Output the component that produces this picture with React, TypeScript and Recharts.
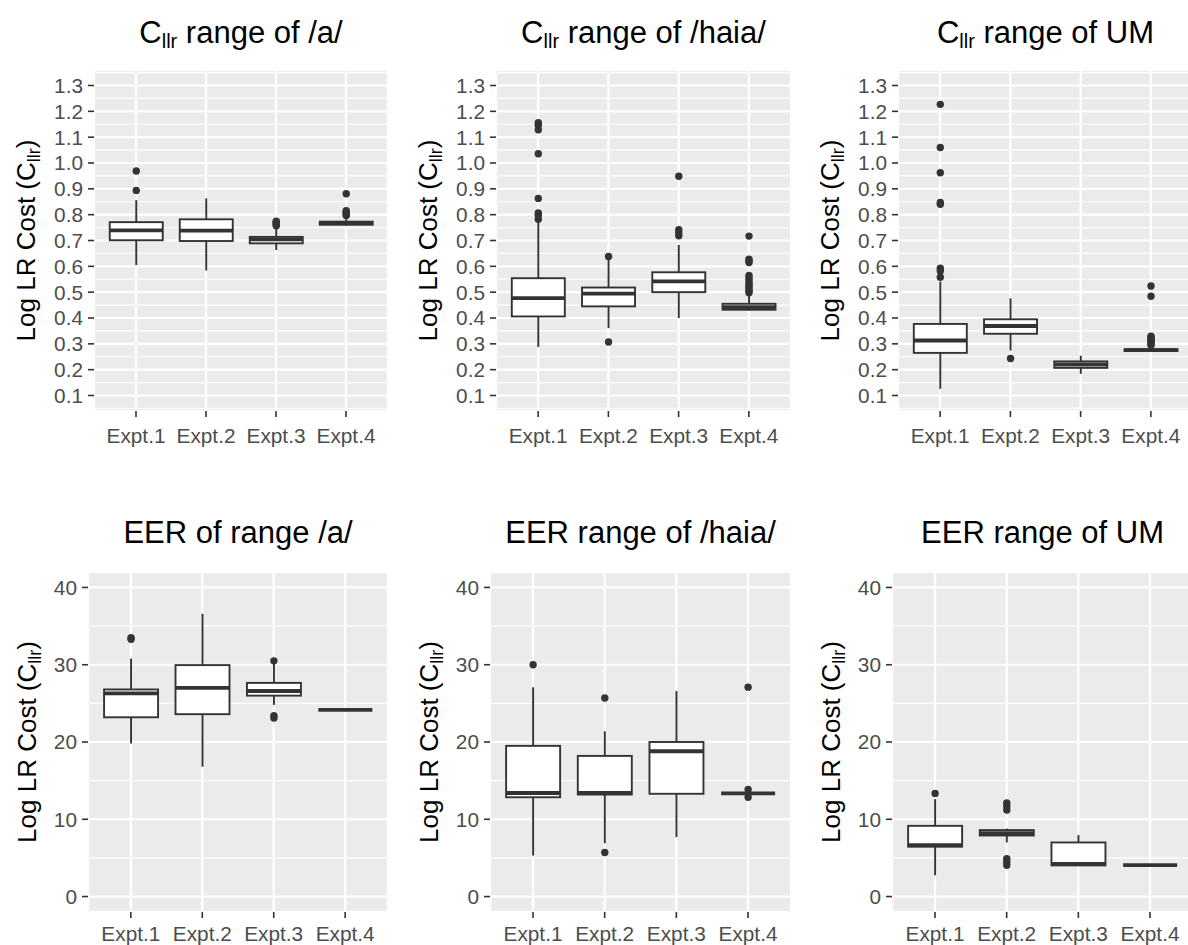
import { ReactNode } from "react";
import { ComposedChart, Bar, XAxis, YAxis, CartesianGrid } from "recharts";

const FONT = '"Liberation Sans", Arial, Helvetica, sans-serif';

const categories = ["Expt.1", "Expt.2", "Expt.3", "Expt.4"];

// [lower whisker, Q1, median, Q3, upper whisker] per experiment
const cllrA = [
  [0.605, 0.701, 0.739, 0.771, 0.856],
  [0.584, 0.698, 0.738, 0.782, 0.863],
  [0.663, 0.689, 0.704, 0.714, 0.745],
  [0.757, 0.761, 0.767, 0.773, 0.785],
];
const cllrAOut = [[0.969, 0.894], [], [0.757, 0.762, 0.766, 0.771, 0.775], [0.881, 0.797, 0.801, 0.806, 0.81, 0.815]];

const cllrHaia = [
  [0.288, 0.406, 0.477, 0.554, 0.77],
  [0.361, 0.445, 0.494, 0.518, 0.625],
  [0.4, 0.5, 0.542, 0.577, 0.683],
  [0.429, 0.432, 0.442, 0.455, 0.485],
];
const cllrHaiaOut = [
  [1.156, 1.146, 1.129, 1.036, 0.863, 0.807, 0.798, 0.782],
  [0.638, 0.307],
  [0.949, 0.742, 0.73, 0.718],
  [0.717, 0.628, 0.622, 0.615, 0.565, 0.555, 0.545, 0.535, 0.528, 0.52, 0.512, 0.505, 0.498],
];

const cllrUM = [
  [0.126, 0.265, 0.313, 0.377, 0.541],
  [0.274, 0.339, 0.369, 0.395, 0.476],
  [0.184, 0.207, 0.22, 0.232, 0.254],
  [0.27, 0.272, 0.276, 0.279, 0.285],
];
const cllrUMOut = [
  [1.227, 1.06, 0.962, 0.847, 0.84, 0.593, 0.582, 0.558],
  [0.243],
  [],
  [0.524, 0.484, 0.33, 0.325, 0.32, 0.315, 0.31, 0.305, 0.3, 0.295],
];

const eerA = [
  [19.8, 23.2, 26.3, 26.8, 30.8],
  [16.8, 23.6, 27.0, 29.95, 36.6],
  [24.8, 26.0, 26.6, 27.65, 30.1],
  [24.15, 24.15, 24.15, 24.15, 24.15],
];
const eerAOut = [[33.5, 33.3], [], [30.5, 23.4, 23.1], []];

const eerHaia = [
  [5.3, 12.85, 13.4, 19.5, 27.1],
  [6.9, 13.2, 13.4, 18.2, 21.4],
  [7.7, 13.3, 18.8, 20.0, 26.6],
  [13.35, 13.35, 13.35, 13.35, 13.35],
];
const eerHaiaOut = [[30.0], [25.7, 5.7], [], [27.1, 13.85, 12.85]];

const eerUM = [
  [2.75, 6.45, 6.65, 9.15, 12.6],
  [7.0, 7.9, 8.2, 8.6, 8.8],
  [4.03, 4.03, 4.22, 7.0, 7.95],
  [4.07, 4.07, 4.07, 4.07, 4.07],
];
const eerUMOut = [[13.35], [12.1, 11.7, 11.2, 4.9, 4.5, 4.05], [], []];

const cllrTicks = [0.1, 0.2, 0.3, 0.4, 0.5, 0.6, 0.7, 0.8, 0.9, 1.0, 1.1, 1.2, 1.3];
const cllrMinor = [0.05, 0.15, 0.25, 0.35, 0.45, 0.55, 0.65, 0.75, 0.85, 0.95, 1.05, 1.15, 1.25, 1.35];
const eerTicks = [0, 10, 20, 30, 40];
const eerMinor = [5, 15, 25, 35];

const INK = "#333333";

function buildRows(stats: number[][], outliers: number[][]) {
  return categories.map((name, i) => {
    const all = [...stats[i], ...outliers[i]];
    return {
      name,
      stats: stats[i],
      outliers: outliers[i],
      range: [Math.min(...all), Math.max(...all)],
    };
  });
}

// box, whiskers, median and outliers, positioned inside the bar's [min, max] range
function BoxShape(props: any) {
  const { x, y, width, height, payload } = props;
  if (x == null || y == null || !payload) return null;
  const [lo, hi] = payload.range;
  const top = Math.min(y, y + (height || 0));
  const span = Math.abs(height || 0);
  const py = (v: number) => (hi === lo ? top : top + ((hi - v) / (hi - lo)) * span);
  const [wLo, q1, med, q3, wHi] = payload.stats;
  const cx = x + width / 2;
  return (
    <g>
      <line x1={cx} x2={cx} y1={py(q3)} y2={py(wHi)} stroke={INK} strokeWidth={1.9} />
      <line x1={cx} x2={cx} y1={py(q1)} y2={py(wLo)} stroke={INK} strokeWidth={1.9} />
      <rect x={x} y={py(q3)} width={width} height={py(q1) - py(q3)} fill="#FFFFFF" stroke={INK} strokeWidth={1.9} />
      <line x1={x} x2={x + width} y1={py(med)} y2={py(med)} stroke={INK} strokeWidth={3.8} />
      {payload.outliers.map((v: number, i: number) => (
        <circle key={i} cx={cx} cy={py(v)} r={3.7} fill={INK} />
      ))}
    </g>
  );
}

function YTitle({ cx, cy }: { cx: number; cy: number }) {
  return (
    <text
      x={cx}
      y={cy}
      transform={`rotate(-90, ${cx}, ${cy})`}
      textAnchor="middle"
      fontSize={26}
      fontFamily={FONT}
      fill="#000000"
    >
      Log LR Cost (C
      <tspan fontSize={18} dy={5}>
        llr
      </tspan>
      <tspan dy={-5}>)</tspan>
    </text>
  );
}

const Cllr = () => (
  <>
    C<span style={{ fontSize: 20, position: "relative", top: 5 }}>llr</span>
  </>
);

type PanelProps = {
  title: ReactNode;
  stats: number[][];
  outliers: number[][];
  ticks: number[];
  minor: number[];
  domain: [number, number];
  decimals: number;
  left: number;
  top: number;
  height: number;
  plotLeft: number;
  plotRight: number;
  plotTop: number;
  plotBottom: number;
  xAxisHeight: number;
  xTickMargin: number;
  labelGap: number;
  titleBaseline: number;
};

function Panel(p: PanelProps) {
  const rows = buildRows(p.stats, p.outliers);
  const plotW = p.plotRight - p.plotLeft;
  const pad = plotW / 42;
  const marginRight = 8;
  const width = p.plotRight - p.left + marginRight;
  const margin = {
    top: p.plotTop - p.top,
    right: marginRight,
    left: 0,
    bottom: p.height - (p.plotBottom - p.top) - p.xAxisHeight,
  };
  const tickStyle = { fontSize: 20.8, fill: "#4D4D4D", fontFamily: FONT };
  return (
    <>
      <div
        style={{
          position: "absolute",
          left: p.plotLeft,
          width: plotW,
          top: p.titleBaseline - 26.3,
          fontSize: 31,
          lineHeight: "31px",
          textAlign: "center",
          whiteSpace: "nowrap",
          color: "#000000",
        }}
      >
        {p.title}
      </div>
      <div style={{ position: "absolute", left: p.left, top: p.top }}>
        <ComposedChart width={width} height={p.height} data={rows} margin={margin} barCategoryGap="12.5%">
          {/* minor grid follows a hidden axis that carries the in-between breaks */}
          <CartesianGrid
            yAxisId="minor"
            fill="#EBEBEB"
            stroke="#FFFFFF"
            strokeWidth={1.1}
            vertical={false}
          />
          <CartesianGrid stroke="#FFFFFF" strokeWidth={2.2} fill="none" />
          <XAxis
            dataKey="name"
            type="category"
            interval={0}
            axisLine={false}
            tickLine={{ stroke: INK, strokeWidth: 1.6 }}
            tickSize={6}
            tickMargin={p.xTickMargin}
            tick={tickStyle}
            padding={{ left: pad, right: pad }}
            height={p.xAxisHeight}
          />
          <YAxis
            type="number"
            domain={p.domain}
            ticks={p.ticks}
            interval={0}
            allowDataOverflow
            axisLine={false}
            tickLine={{ stroke: INK, strokeWidth: 1.6 }}
            tickSize={6}
            tickMargin={5}
            tick={tickStyle}
            tickFormatter={(v: number) => v.toFixed(p.decimals)}
            width={p.plotLeft - p.left}
            label={
              <YTitle
                cx={p.plotLeft - p.left - p.labelGap}
                cy={(p.plotTop + p.plotBottom) / 2 - p.top}
              />
            }
          />
          <YAxis
            yAxisId="minor"
            orientation="right"
            type="number"
            domain={p.domain}
            ticks={p.minor}
            interval={0}
            allowDataOverflow
            hide
          />
          <Bar dataKey="range" shape={(s: any) => <BoxShape {...s} />} isAnimationActive={false} />
        </ComposedChart>
      </div>
    </>
  );
}

const topRow = { top: 0, height: 470, plotTop: 70, plotBottom: 411, xAxisHeight: 40, xTickMargin: 11, labelGap: 59, titleBaseline: 43 };
const bottomRow = { top: 470, height: 475, plotTop: 572, plotBottom: 912, xAxisHeight: 30, xTickMargin: 8, labelGap: 52, titleBaseline: 543 };
const cllrAxis = { ticks: cllrTicks, minor: cllrMinor, domain: [0.04, 1.36] as [number, number], decimals: 1 };
const eerAxis = { ticks: eerTicks, minor: eerMinor, domain: [-2, 42] as [number, number], decimals: 0 };

export default function App() {
  return (
    <div
      style={{
        position: "absolute",
        left: 0,
        top: 0,
        width: 1188,
        height: 945,
        overflow: "hidden",
        background: "#FFFFFF",
        fontFamily: FONT,
      }}
    >
      <Panel title={<><Cllr /> range of /a/</>} stats={cllrA} outliers={cllrAOut} {...cllrAxis} {...topRow} left={0} plotLeft={94} plotRight={388} />
      <Panel title={<><Cllr /> range of /haia/</>} stats={cllrHaia} outliers={cllrHaiaOut} {...cllrAxis} {...topRow} left={400} plotLeft={496} plotRight={791} />
      <Panel title={<><Cllr /> range of UM</>} stats={cllrUM} outliers={cllrUMOut} {...cllrAxis} {...topRow} left={800} plotLeft={898} plotRight={1193} />
      <Panel title="EER of range /a/" stats={eerA} outliers={eerAOut} {...eerAxis} {...bottomRow} left={0} plotLeft={88} plotRight={388} />
      <Panel title="EER range of /haia/" stats={eerHaia} outliers={eerHaiaOut} {...eerAxis} {...bottomRow} left={400} plotLeft={490} plotRight={791} />
      <Panel title="EER range of UM" stats={eerUM} outliers={eerUMOut} {...eerAxis} {...bottomRow} left={800} plotLeft={892} plotRight={1193} />
    </div>
  );
}
